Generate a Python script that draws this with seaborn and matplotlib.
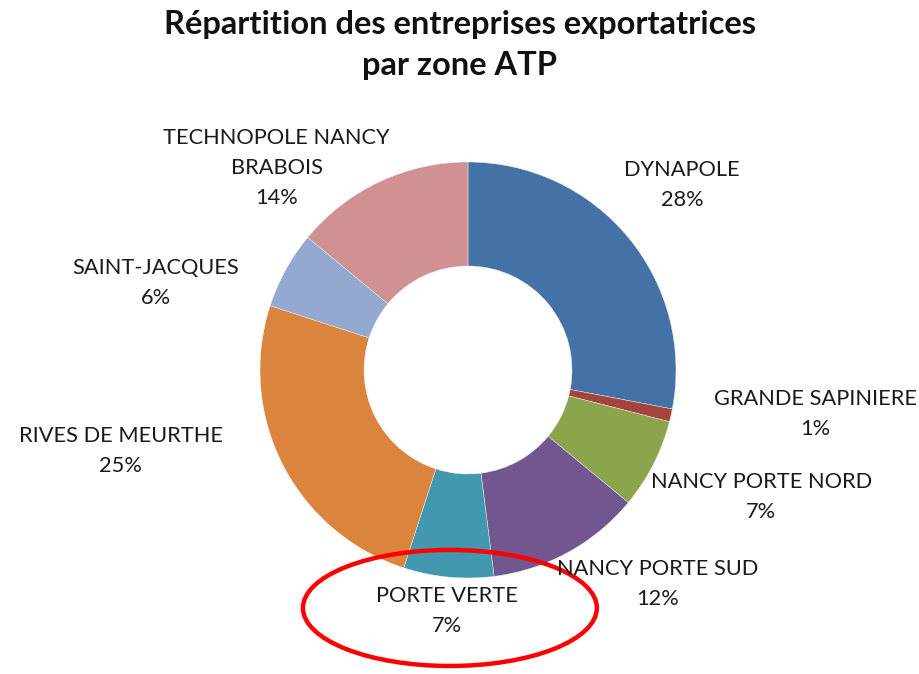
import seaborn as sns
import matplotlib.pyplot as plt
from matplotlib.patches import Ellipse

# Theme setup
sns.set_theme(style="white")
plt.rcParams['font.family'] = ['Lato', 'DejaVu Sans']

# Data
zones = ["DYNAPOLE", "GRANDE SAPINIERE", "NANCY PORTE NORD", "NANCY PORTE SUD",
         "PORTE VERTE", "RIVES DE MEURTHE", "SAINT-JACQUES", "TECHNOPOLE NANCY\nBRABOIS"]
shares = [28, 1, 7, 12, 7, 25, 6, 14]
colors = ["#4472A7", "#A5443F", "#8BA54C", "#715690",
          "#4298AE", "#DB843D", "#93A9CF", "#D19091"]

# label centres (data units, pie radius = 1)
label_pos = [(1.03, 0.89), (1.67, -0.21), (1.41, -0.61), (0.91, -1.03),
             (-0.10, -1.16), (-1.67, -0.39), (-1.50, 0.42), (-0.92, 0.97)]

fig = plt.figure(figsize=(9.2, 6.74), dpi=100)
ax = fig.add_axes([260 / 920, 96 / 674, 416 / 920, 416 / 674])

ax.pie(shares, colors=colors, startangle=90, counterclock=False, radius=1,
       wedgeprops=dict(width=0.5, edgecolor="#f4f4f4", linewidth=0.3))
ax.set_xlim(-1, 1)
ax.set_ylim(-1, 1)
ax.set_aspect("equal")
ax.axis("off")

for name, val, (lx, ly) in zip(zones, shares, label_pos):
    ax.text(lx, ly, f"{name}\n{val}%", ha="center", va="center",
            fontsize=15.7, color="#1a1a1a", linespacing=1.62)

# red highlight around PORTE VERTE
ax.add_patch(Ellipse((-0.087, -1.144), 1.413, 0.558, fill=False,
                     edgecolor="#FF0000", linewidth=3.2, clip_on=False))

fig.text(0.5, 1 - 45 / 674, "Répartition des entreprises exportatrices\npar zone ATP",
         ha="center", va="center", fontsize=23.5, fontweight="bold",
         color="#111111", linespacing=1.5)

fig.savefig("out.png", dpi=100, facecolor="white")
